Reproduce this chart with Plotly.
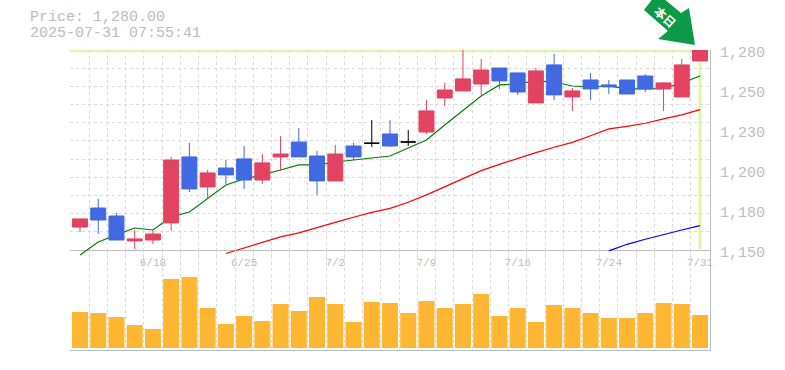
import plotly.graph_objects as go

dates = ["6/12","6/13","6/16","6/17","6/18","6/19","6/20","6/23","6/24","6/25","6/26","6/27",
         "6/30","7/1","7/2","7/3","7/4","7/7","7/8","7/9","7/10","7/11","7/14","7/15","7/16",
         "7/17","7/18","7/22","7/23","7/24","7/25","7/28","7/29","7/30","7/31"]
opens = [1164.9,1177.3,1172.1,1155.9,1156.5,1167.6,1210.5,1191.0,1203.3,1209.2,1195.5,1210.5,
         1220.2,1211.1,1194.9,1217.6,1219.4,1225.4,1220.2,1226.7,1248.8,1253.4,1257.9,1268.3,1265.1,
         1245.6,1270.3,1249.5,1260.5,1257.3,1260.5,1263.1,1254.7,1249.5,1272.9]
highs = [1170.2,1183.2,1174.1,1163.0,1163.0,1210.5,1219.6,1202.0,1208.5,1217.6,1212.4,1224.1,
         1229.3,1214.4,1218.3,1219.6,1234.5,1234.5,1228.0,1247.5,1258.6,1280.0,1274.2,1268.3,1265.1,
         1268.3,1277.4,1255.3,1265.1,1260.5,1260.5,1264.4,1259.2,1274.2,1280.0]
lows = [1161.7,1160.4,1156.5,1150.7,1153.9,1162.4,1187.7,1183.8,1192.9,1189.7,1192.9,1201.4,
        1210.5,1185.8,1194.9,1208.5,1217.0,1217.0,1217.6,1225.4,1243.6,1253.4,1250.8,1254.7,1250.8,
        1245.6,1247.5,1240.4,1247.5,1251.4,1251.4,1252.7,1240.4,1249.5,1272.9]
closes = [1170.2,1169.5,1156.5,1157.2,1160.4,1208.5,1189.7,1200.1,1198.8,1195.5,1206.6,1212.4,
          1210.5,1194.9,1212.4,1210.5,1219.4,1217.6,1220.2,1240.4,1254.0,1261.2,1267.0,1259.9,1252.7,
          1266.4,1250.8,1253.4,1254.7,1256.0,1251.4,1254.7,1258.6,1270.3,1280.0]
ma_short = [1146.8,1155.2,1159.8,1164.3,1163.0,1171.5,1174.7,1183.8,1192.3,1196.2,1198.8,1202.0,
            1205.3,1205.3,1207.2,1208.5,1209.6,1211.1,1216.3,1221.5,1231.3,1241.0,1250.1,1257.3,1257.9,
            1259.9,1259.2,1256.6,1256.0,1256.6,1254.7,1254.7,1254.9,1258.6,1263.1]
ma_mid = [None]*8 + [1147.7,1151.3,1154.8,1158.5,1161.1,1164.7,1168.0,1171.3,1174.5,1177.1,1181.0,
                     1185.8,1191.2,1196.2,1201.6,1205.7,1209.6,1213.3,1216.8,1220.0,1224.3,1228.7,
                     1230.4,1232.4,1235.2,1237.8,1241.2]
ma_long = [None]*29 + [1149.4,1153.7,1157.0,1160.2,1163.0,1165.8]
volumes = [36,35,31,23,19,69,71,40,24,32,27,44,37,51,44,26,46,45,35,47,40,44,54,32,40,26,43,40,35,
           30,30,35,45,44,33]
date_ticks = ["6/18","6/25","7/2","7/9","7/16","7/24","7/31"]
price_ticks = [1280,1254,1228,1202,1176,1150]
price_labels = ["1,280","1,250","1,230","1,200","1,180","1,150"]
header_lines = ["Price: 1,280.00","2025-07-31 07:55:41"]

W, H = 785, 370
L, R, T, B = 70, 710, 50, 350
GREY = "#BDBDBD"
GRID = "#DADADA"
BAND = "#E2F5A6"
MONO = "Liberation Mono, monospace"
px = lambda x: (x - L) / (R - L)
py = lambda y: (B - y) / (B - T)

idx = list(range(len(dates)))
doji = [i for i in idx if opens[i] == closes[i]]
solid = [i for i in idx if i not in doji]
pick = lambda seq, ids: [seq[i] for i in ids]

xrange = [-0.548, 34.548]
yrange = [1150, 1280]
UNITS_PER_PX = (yrange[1] - yrange[0]) / 200
OVERHANG_PX = 8  # the moving averages run a little below the price panel
yrange_over = [yrange[0] - OVERHANG_PX * UNITS_PER_PX, yrange[1]]
grid_x = [i - 0.5 for i in idx] + [idx[-1] + 0.5]
grid_y = [1150 + k * 130 / 11 for k in range(12)]

fig = go.Figure()
for series, colour in ((ma_short, "#008000"), (ma_mid, "#FF0000"), (ma_long, "#0000FF")):
    fig.add_trace(go.Scatter(x=idx, y=series, mode="lines", yaxis="y4",
                             line=dict(color=colour, width=1.2), hoverinfo="skip"))
fig.add_trace(go.Candlestick(
    x=solid, open=pick(opens, solid), high=pick(highs, solid), low=pick(lows, solid),
    close=pick(closes, solid), yaxis="y3",
    increasing=dict(line=dict(color="#E24360", width=1), fillcolor="#E24360"),
    decreasing=dict(line=dict(color="#4169E1", width=1), fillcolor="#4169E1")))
fig.add_trace(go.Candlestick(
    x=doji, open=pick(opens, doji), high=pick(highs, doji), low=pick(lows, doji),
    close=pick(closes, doji), yaxis="y3",
    increasing=dict(line=dict(color="#000000", width=1), fillcolor="#000000"),
    decreasing=dict(line=dict(color="#000000", width=1), fillcolor="#000000")))
fig.add_trace(go.Bar(x=idx, y=volumes, xaxis="x2", yaxis="y2",
                     marker=dict(color="#FFB733", line=dict(width=0))))

annotations = []
for tick, label in zip(price_ticks, price_labels):
    annotations.append(dict(x=1, xref="paper", y=tick, yref="y", xanchor="left", xshift=8, yshift=-3,
                            text=label, showarrow=False, font=dict(family=MONO, size=15, color=GREY)))
for line, ypx in zip(header_lines, (18, 33)):
    annotations.append(dict(x=px(28), xref="paper", y=py(ypx), yref="paper", xanchor="left", yanchor="middle",
                            text=line, showarrow=False, font=dict(family=MONO, size=15, color=GREY)))
annotations.append(dict(x=px(666), xref="paper", y=py(16), yref="paper", xanchor="center", yanchor="middle",
                        text="<b>本日</b>", textangle=42, showarrow=False,
                        font=dict(family="Noto Sans CJK JP", size=12, color="#FFFFFF")))

arrow_pts = [(644, 10), (668, 31), (658, 39), (695, 45), (689, 8), (681, 13), (657, -7)]
arrow_path = "M " + " L ".join(f"{px(x):.5f},{py(y):.5f}" for x, y in arrow_pts) + " Z"

shapes = [
    dict(type="line", xref="x", yref="y", x0=xrange[0], x1=xrange[1], y0=closes[-1] - 0.5, y1=closes[-1] - 0.5,
         line=dict(color=BAND, width=3), layer="below"),
    dict(type="line", xref="x", yref="y", x0=idx[-1], x1=idx[-1], y0=yrange[0] + 0.7, y1=closes[-1],
         line=dict(color=BAND, width=3), layer="below"),
    dict(type="path", xref="paper", yref="paper", path=arrow_path, fillcolor="#0A9A48", line=dict(width=0),
         layer="below"),
]

minor_grid = dict(tickvals=grid_x, showgrid=True, gridcolor=GRID, griddash="3px,3px", gridwidth=1, ticklen=0)
tick_idx = [dates.index(d) for d in date_ticks]

fig.update_layout(
    width=W, height=H, autosize=False,
    margin=dict(l=L, r=W - R, t=T, b=H - B),
    paper_bgcolor="#FFFFFF", plot_bgcolor="rgba(0,0,0,0)",
    showlegend=False, boxgap=0.18, boxgroupgap=0, bargap=0.12, hovermode=False,
    annotations=annotations, shapes=shapes,
    xaxis=dict(domain=[0, 1], range=xrange, anchor="y", tickmode="array", tickvals=tick_idx, ticktext=date_ticks,
               showgrid=False, minor=minor_grid, showline=True, linecolor=GREY, linewidth=1, ticks="",
               zeroline=False, rangeslider=dict(visible=False), ticklabelstandoff=2,
               tickfont=dict(family=MONO, size=11, color=GREY)),
    xaxis2=dict(domain=[0, 1], range=xrange, anchor="y2", tickmode="array", tickvals=[], showticklabels=False,
                showgrid=False, minor=minor_grid, showline=True, linecolor=GREY, linewidth=1, ticks="",
                zeroline=False),
    yaxis=dict(domain=[1 / 3, 1], range=yrange, anchor="x", side="right", tickmode="array", tickvals=[],
               showticklabels=False, showgrid=False,
               minor=dict(tickvals=grid_y, showgrid=True, gridcolor=GRID, griddash="3px,3px", gridwidth=1, ticklen=0),
               showline=True, linecolor=GREY, linewidth=1, zeroline=False),
    yaxis2=dict(domain=[0, 1 / 3], range=[-2, 98], anchor="x2", side="right", tickmode="array", tickvals=[],
                showticklabels=False, showgrid=False, showline=True, linecolor=GREY, linewidth=1, zeroline=False),
    yaxis4=dict(domain=[py(T + 200 + OVERHANG_PX), 1], range=yrange_over,
                anchor="x", side="right", tickmode="array", tickvals=[],
                showticklabels=False, showgrid=False, showline=False, zeroline=False),
    yaxis3=dict(range=yrange_over, overlaying="y4", anchor="x", side="right", tickmode="array", tickvals=[],
                showticklabels=False, showgrid=False, showline=False, zeroline=False),
)

fig.write_html("out.html", config=dict(displayModeBar=False),
               post_script="document.body.style.margin='0';document.body.style.overflow='hidden';")
